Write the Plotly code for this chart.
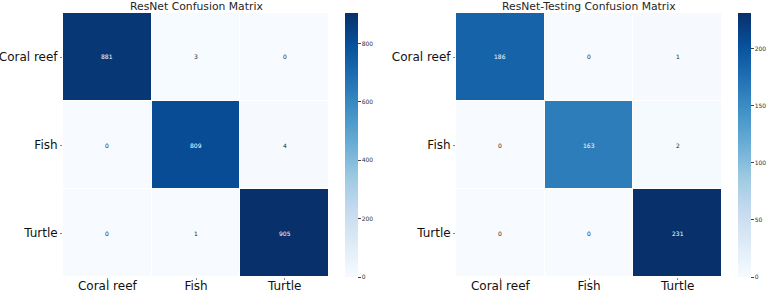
import plotly.graph_objects as go

classes = ["Coral reef", "Fish", "Turtle"]
train_cm = [[881, 3, 0], [0, 809, 4], [0, 1, 905]]
test_cm = [[186, 0, 1], [0, 163, 2], [0, 0, 231]]
titles = ["ResNet Confusion Matrix", "ResNet-Testing Confusion Matrix"]
train_ticks = [0, 200, 400, 600, 800]
test_ticks = [0, 50, 100, 150, 200]

blues = ["#f7fbff", "#deebf7", "#c6dbef", "#9ecae1", "#6baed6",
         "#4292c6", "#2171b5", "#08519c", "#08306b"]
cscale = [[i / 8, c] for i, c in enumerate(blues)]

W, H = 768, 292
FONT = "DejaVu Sans"

fig = go.Figure()

panels = [
    dict(cm=train_cm, ticks=train_ticks, x0=63, x1=329, cb=345, xa="x", ya="y", title=titles[0]),
    dict(cm=test_cm, ticks=test_ticks, x0=456, x1=722, cb=738, xa="x2", ya="y2", title=titles[1]),
]
ytop, ybot = 13, 277
ydom = [(H - ybot) / H, (H - ytop) / H]

layout = dict(width=W, height=H, margin=dict(l=0, r=0, t=0, b=0, autoexpand=False),
              paper_bgcolor="white", plot_bgcolor="white",
              font=dict(family=FONT, color="#262626"), showlegend=False)
annotations = []
for i, p in enumerate(panels):
    cm = p["cm"]
    zmax = max(max(r) for r in cm)
    zmin = min(min(r) for r in cm)
    fig.add_trace(go.Heatmap(
        z=cm, x=classes, y=classes, xaxis=p["xa"], yaxis=p["ya"],
        colorscale=cscale, zmin=zmin, zmax=zmax, xgap=1, ygap=1,
        hoverinfo="skip",
        colorbar=dict(x=p["cb"] / W, xanchor="left", xref="paper",
                      y=ydom[0], yanchor="bottom", len=ydom[1] - ydom[0],
                      lenmode="fraction", thickness=13, outlinewidth=0,
                      xpad=0, ypad=0,
                      tickvals=p["ticks"], ticks="outside", ticklen=3,
                      tickwidth=0.8, tickcolor="#444",
                      tickfont=dict(size=6, family=FONT, color="#333")),
    ))
    suffix = "" if i == 0 else "2"
    layout["xaxis" + suffix] = dict(
        domain=[p["x0"] / W, p["x1"] / W], anchor="y" + suffix, automargin=False,
        tickfont=dict(size=12, family=FONT, color="#111"), ticks="outside",
        ticklen=2, tickcolor="#888", ticklabelstandoff=-4,
        showgrid=False, zeroline=False,
        showline=False, categoryorder="array", categoryarray=classes)
    layout["yaxis" + suffix] = dict(
        domain=ydom, anchor="x" + suffix, autorange="reversed", automargin=False,
        tickfont=dict(size=12, family=FONT, color="#111"), ticks="outside",
        ticklen=2, tickcolor="#888", showgrid=False, zeroline=False,
        showline=False, categoryorder="array", categoryarray=classes)
    for r in range(3):
        for c in range(3):
            v = cm[r][c]
            frac = (v - zmin) / (zmax - zmin)
            annotations.append(dict(
                x=classes[c], y=classes[r], xref="x" + suffix, yref="y" + suffix,
                text=str(v), showarrow=False,
                font=dict(size=6, family=FONT, color="white" if frac > 0.5 else "#262626")))
    annotations.append(dict(
        x=(p["x0"] + p["x1"]) / 2 / W, y=1 - 6.5 / H, xref="paper", yref="paper",
        text=p["title"], showarrow=False, xanchor="center", yanchor="middle",
        font=dict(size=10.8, family=FONT, color="#262626")))

layout["annotations"] = annotations
fig.update_layout(**layout)
fig.write_html("out.html")
